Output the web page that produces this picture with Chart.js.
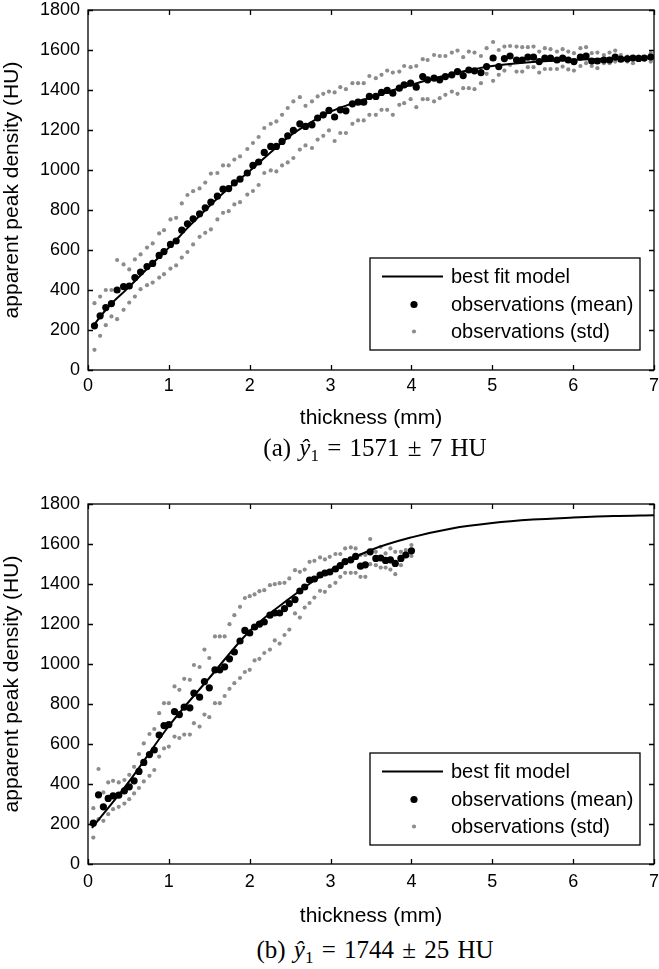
<!DOCTYPE html>
<html>
<head>
<meta charset="utf-8">
<script src="https://cdn.jsdelivr.net/npm/chart.js@4.4.0/dist/chart.umd.min.js"></script>
<style>
  html, body { margin: 0; padding: 0; background: #fff; }
  #wrap { position: relative; width: 659px; height: 969px; overflow: hidden; }
  #wrap canvas { position: absolute; left: 0; }
  .cap {
    position: absolute; left: 0; width: 750px; text-align: center;
    font-family: "Liberation Serif", "DejaVu Serif", serif; font-size: 25px;
    line-height: 24px; color: #000; white-space: nowrap; word-spacing: 2px;
  }
  .cap sub { font-size: 17px; vertical-align: -5px; line-height: 0; }
</style>
</head>
<body>
<div id="wrap">
  <canvas id="chartA" width="659" height="440" style="top:0"></canvas>
  <div class="cap" style="top:436px">(a) <i>ŷ</i><sub>1</sub> = 1571 ± 7 HU</div>
  <canvas id="chartB" width="659" height="440" style="top:494px"></canvas>
  <div class="cap" style="top:938px">(b) <i>ŷ</i><sub>1</sub> = 1744 ± 25 HU</div>
</div>
<script>
const xTicks = [0, 1, 2, 3, 4, 5, 6, 7];
const yTicks = [0, 200, 400, 600, 800, 1000, 1200, 1400, 1600, 1800];
const legendLabels = ['best fit model', 'observations (mean)', 'observations (std)'];

// (a) best fit model
const fitXa = [0.05, 0.25, 0.5, 0.75, 1, 1.25, 1.5, 1.75, 2, 2.25, 2.5, 2.75, 3, 3.25, 3.5, 3.75, 4, 4.25, 4.5, 4.75, 5, 5.5, 6, 6.5, 7];
const fitYa = [213, 315, 412, 514, 612, 718, 819, 912, 995, 1085, 1172, 1237, 1292, 1330, 1363, 1396, 1426, 1455, 1480, 1502, 1520, 1540, 1551, 1558, 1562];

// (a) observations
const obsXa = [0.08, 0.15, 0.22, 0.29, 0.36, 0.44, 0.51, 0.58, 0.65, 0.73, 0.80, 0.88, 0.94,
  1.02, 1.09, 1.16, 1.23, 1.30, 1.38, 1.45, 1.52, 1.60, 1.67, 1.74, 1.81, 1.88, 1.97,
  2.04, 2.11, 2.18, 2.26, 2.33, 2.40, 2.47, 2.54, 2.62, 2.69, 2.77, 2.84, 2.91, 2.98,
  3.05, 3.12, 3.19, 3.27, 3.34, 3.41, 3.48, 3.56, 3.63, 3.70, 3.77, 3.85, 3.91, 3.99,
  4.06, 4.14, 4.20, 4.28, 4.35, 4.42, 4.50, 4.57, 4.64, 4.71, 4.78, 4.86, 4.93,
  5.01, 5.08, 5.15, 5.22, 5.30, 5.37, 5.44, 5.51, 5.58, 5.65, 5.72, 5.80, 5.87, 5.94,
  6.01, 6.09, 6.16, 6.23, 6.30, 6.38, 6.45, 6.52, 6.59, 6.67, 6.74, 6.81, 6.88, 6.96];
const meanYa = [221, 271, 312, 332, 400, 417, 420, 462, 490, 517, 533, 573, 592,
  628, 645, 699, 731, 756, 781, 811, 839, 869, 904, 907, 936, 954, 985,
  1023, 1040, 1088, 1118, 1118, 1143, 1171, 1198, 1231, 1218, 1226, 1260, 1276, 1298,
  1265, 1301, 1296, 1331, 1339, 1339, 1368, 1368, 1388, 1398, 1384, 1409, 1426, 1434,
  1414, 1467, 1451, 1459, 1451, 1467, 1476, 1492, 1472, 1500, 1496, 1487, 1517,
  1560, 1517, 1557, 1570, 1550, 1550, 1564, 1564, 1542, 1559, 1559, 1550, 1559, 1550,
  1542, 1564, 1570, 1545, 1545, 1550, 1550, 1564, 1554, 1556, 1560, 1558, 1560, 1565];
const stdHiYa = [334, 367, 400, 400, 550, 528, 503, 553, 578, 612, 633, 683, 699,
  753, 761, 833, 875, 894, 908, 937, 982, 985, 1023, 1023, 1052, 1068, 1105,
  1135, 1165, 1210, 1231, 1243, 1276, 1310, 1343, 1364, 1321, 1343, 1368, 1381, 1392,
  1388, 1414, 1404, 1434, 1434, 1434, 1470, 1459, 1476, 1497, 1487, 1492, 1520, 1514,
  1520, 1554, 1550, 1575, 1570, 1570, 1587, 1597, 1564, 1592, 1587, 1570, 1609,
  1640, 1600, 1617, 1620, 1617, 1614, 1614, 1617, 1592, 1609, 1604, 1592, 1604, 1592,
  1584, 1609, 1614, 1584, 1587, 1575, 1587, 1597, 1575, 1567, 1564, 1567, 1564, 1584];
const stdLoYa = [101, 171, 224, 268, 254, 301, 337, 367, 404, 424, 437, 462, 479,
  507, 523, 562, 590, 628, 666, 686, 703, 753, 786, 794, 828, 839, 877,
  895, 925, 985, 998, 993, 1023, 1038, 1060, 1102, 1123, 1110, 1152, 1171, 1198,
  1145, 1185, 1185, 1231, 1248, 1248, 1276, 1276, 1301, 1301, 1276, 1326, 1334, 1354,
  1314, 1354, 1354, 1343, 1359, 1376, 1392, 1381, 1409, 1409, 1404, 1434, 1481,
  1446, 1476, 1497, 1525, 1492, 1492, 1514, 1514, 1487, 1505, 1505, 1505, 1517, 1503,
  1497, 1520, 1534, 1520, 1509, 1534, 1534, 1542, 1550, 1542, 1534, 1550, 1550, 1542];

// (b) best fit model
const fitXb = [0.05, 0.5, 1, 1.5, 2, 2.5, 3, 3.5, 4, 4.5, 5, 5.5, 6, 6.5, 7];
const fitYb = [180, 408, 690, 930, 1165, 1330, 1470, 1570, 1633, 1678, 1705, 1722, 1732, 1740, 1744];

// (b) observations
const obsXb = [0.066, 0.13, 0.19, 0.25, 0.31, 0.38, 0.45, 0.51, 0.57, 0.63, 0.69, 0.76, 0.82, 0.88, 0.94, 1.00,
  1.07, 1.13, 1.19, 1.26, 1.31, 1.38, 1.44, 1.50, 1.57, 1.63, 1.69, 1.75, 1.81, 1.88, 1.94, 2.00,
  2.06, 2.12, 2.18, 2.25, 2.31, 2.37, 2.43, 2.49, 2.56, 2.62, 2.68, 2.74, 2.80, 2.87, 2.93, 2.99,
  3.06, 3.12, 3.18, 3.25, 3.31, 3.37, 3.43, 3.49, 3.56, 3.62, 3.68, 3.74, 3.80, 3.87, 3.93, 4.00];
const meanYb = [204, 346, 286, 328, 341, 344, 366, 386, 416, 463, 508, 547, 570, 645, 692, 697,
  762, 747, 784, 781, 854, 834, 912, 881, 971, 971, 986, 1026, 1060, 1115, 1168, 1155,
  1185, 1199, 1210, 1244, 1255, 1255, 1277, 1302, 1322, 1365, 1385, 1420, 1425, 1445, 1455, 1460,
  1475, 1492, 1512, 1521, 1538, 1489, 1496, 1561, 1528, 1530, 1518, 1521, 1503, 1528, 1545, 1566];
const stdHiYb = [279, 475, 358, 408, 416, 408, 420, 446, 486, 550, 603, 650, 675, 754, 804, 804,
  888, 871, 926, 921, 995, 985, 1072, 1030, 1138, 1138, 1138, 1199, 1244, 1286, 1330, 1339,
  1348, 1364, 1369, 1394, 1399, 1404, 1406, 1428, 1469, 1461, 1472, 1511, 1516, 1533, 1523, 1536,
  1550, 1550, 1578, 1583, 1578, 1545, 1545, 1625, 1561, 1586, 1553, 1578, 1561, 1561, 1570, 1595];
const stdLoYb = [132, 224, 216, 249, 274, 286, 302, 324, 353, 380, 413, 441, 470, 537, 578, 587,
  637, 630, 647, 647, 704, 687, 747, 734, 804, 804, 840, 876, 904, 930, 960, 971,
  1018, 1026, 1055, 1072, 1118, 1102, 1145, 1172, 1253, 1232, 1282, 1305, 1332, 1366, 1361, 1389,
  1406, 1436, 1456, 1456, 1456, 1436, 1436, 1499, 1494, 1482, 1482, 1472, 1449, 1494, 1556, 1540];

const SANS = '"Liberation Sans", Arial, Helvetica, sans-serif';
const pts = (xs, ys) => xs.map((x, i) => ({ x: x, y: ys[i] }));

// box frame with inward ticks on all four sides
const framePlugin = {
  id: 'frame',
  afterDatasetsDraw(chart) {
    const { ctx, chartArea: a, scales } = chart;
    const L = 5;
    ctx.save();
    ctx.strokeStyle = '#000';
    ctx.lineWidth = 1.3;
    ctx.strokeRect(a.left, a.top, a.right - a.left, a.bottom - a.top);
    ctx.beginPath();
    scales.x.ticks.forEach(t => {
      const px = Math.round(scales.x.getPixelForValue(t.value)) + 0.5;
      ctx.moveTo(px, a.bottom); ctx.lineTo(px, a.bottom - L);
      ctx.moveTo(px, a.top); ctx.lineTo(px, a.top + L);
    });
    scales.y.ticks.forEach(t => {
      const py = Math.round(scales.y.getPixelForValue(t.value)) + 0.5;
      ctx.moveTo(a.left, py); ctx.lineTo(a.left + L, py);
      ctx.moveTo(a.right, py); ctx.lineTo(a.right - L, py);
    });
    ctx.stroke();
    ctx.restore();
  }
};

// matlab-like boxed legend in the lower right corner
const boxLegend = {
  id: 'boxLegend',
  afterDraw(chart) {
    const { ctx, chartArea: a } = chart;
    const opt = chart.options.plugins.boxLegend;
    const left = a.right - 284, right = a.right - 14;
    const bottom = a.bottom - opt.gap, top = bottom - 92;
    const rows = [18.5, 46.5, 73.5];
    ctx.save();
    ctx.fillStyle = '#fff';
    ctx.fillRect(left, top, right - left, bottom - top);
    ctx.strokeStyle = '#000';
    ctx.lineWidth = 1.3;
    ctx.strokeRect(left, top, right - left, bottom - top);
    const seen = [];
    chart.data.datasets.forEach(d => {
      if (seen.indexOf(d.label) >= 0) return;
      seen.push(d.label);
      const yy = top + rows[seen.length - 1];
      if (d.showLine) {
        ctx.strokeStyle = d.borderColor;
        ctx.lineWidth = d.borderWidth;
        ctx.beginPath();
        ctx.moveTo(left + 12, yy); ctx.lineTo(left + 73, yy);
        ctx.stroke();
      } else {
        ctx.fillStyle = d.backgroundColor;
        ctx.beginPath();
        ctx.arc(left + 44, yy, d.pointRadius, 0, Math.PI * 2);
        ctx.fill();
      }
      ctx.fillStyle = '#000';
      ctx.font = '20px ' + SANS;
      ctx.textBaseline = 'middle';
      ctx.fillText(d.label, left + 81, yy + 1);
    });
    ctx.restore();
  }
};

function makeChart(id, fitX, fitY, obsX, meanY, hiY, loY, lay) {
  const H = 440, areaTop = 10, areaBottom = 370;
  return new Chart(document.getElementById(id), {
    type: 'scatter',
    data: {
      datasets: [
        { label: legendLabels[0], data: pts(fitX, fitY), showLine: true, borderColor: '#000', borderWidth: 2,
          pointRadius: 0, cubicInterpolationMode: 'monotone' },
        { label: legendLabels[1], data: pts(obsX, meanY), pointRadius: 3.6, backgroundColor: '#000', borderWidth: 0 },
        { label: legendLabels[2], data: pts(obsX, hiY), pointRadius: 2.1, backgroundColor: '#8c8c8c', borderWidth: 0 },
        { label: legendLabels[2], data: pts(obsX, loY), pointRadius: 2.1, backgroundColor: '#8c8c8c', borderWidth: 0 }
      ]
    },
    options: {
      responsive: false,
      animation: false,
      devicePixelRatio: 1,
      layout: { padding: { top: areaTop, right: 5, left: 0, bottom: 0 } },
      plugins: { legend: { display: false }, tooltip: { enabled: false }, boxLegend: { gap: lay.legendGap } },
      scales: {
        x: {
          type: 'linear', min: 0, max: 7,
          grid: { display: false, drawTicks: false },
          border: { display: false },
          afterBuildTicks: s => { s.ticks = xTicks.map(v => ({ value: v })); },
          afterFit: s => { s.height = H - areaBottom; s.paddingLeft = 0; s.paddingRight = 0; },
          ticks: { padding: lay.tickPad, color: '#000', font: { family: SANS, size: 18 }, maxRotation: 0, autoSkip: false,
                   callback: v => String(v) },
          title: { display: true, text: 'thickness (mm)', color: '#000', font: { family: SANS, size: 21 },
                   padding: { top: 0, bottom: lay.titlePad } }
        },
        y: {
          type: 'linear', min: 0, max: 1800,
          grid: { display: false, drawTicks: false },
          border: { display: false },
          afterBuildTicks: s => { s.ticks = yTicks.map(v => ({ value: v })); },
          afterFit: s => { s.width = 88; s.paddingTop = 0; s.paddingBottom = 0; },
          ticks: { padding: 8, color: '#000', font: { family: SANS, size: 18 }, autoSkip: false,
                   callback: v => String(v) },
          title: { display: true, text: 'apparent peak density (HU)', color: '#000', font: { family: SANS, size: 21 },
                   padding: { top: 0, bottom: 0 } }
        }
      }
    },
    plugins: [framePlugin, boxLegend]
  });
}

makeChart('chartA', fitXa, fitYa, obsXa, meanYa, stdHiYa, stdLoYa, { legendGap: 20, tickPad: 5, titlePad: 9 });
makeChart('chartB', fitXb, fitYb, obsXb, meanYb, stdHiYb, stdLoYb, { legendGap: 19, tickPad: 7, titlePad: 5 });
</script>
</body>
</html>
